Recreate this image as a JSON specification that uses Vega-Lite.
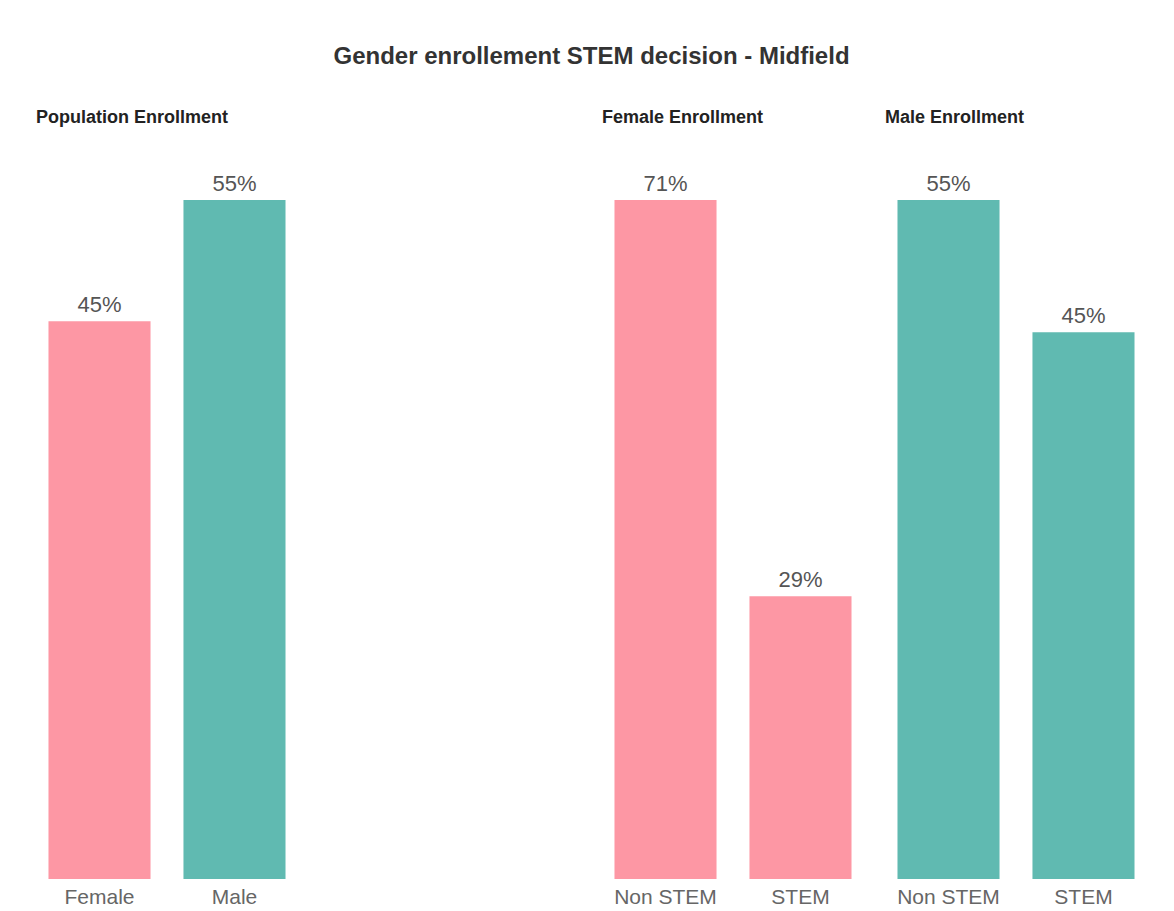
{
  "$schema": "https://vega.github.io/schema/vega-lite/v6.json",
  "background": "white",
  "padding": {"left": 36, "top": 45, "right": 10, "bottom": 3},
  "title": {"text": "Gender enrollement STEM decision - Midfield", "fontSize": 24, "fontWeight": "bold", "color": "#333333", "font": "Liberation Sans", "anchor": "middle", "offset": 40},
  "datasets": {
    "enroll": [
      {"panel": "Population Enrollment", "category": "Female", "gender": "Female", "share": 0.451},
      {"panel": "Population Enrollment", "category": "Male", "gender": "Male", "share": 0.549},
      {"panel": "Female Enrollment", "category": "Non STEM", "gender": "Female", "share": 0.706},
      {"panel": "Female Enrollment", "category": "STEM", "gender": "Female", "share": 0.294},
      {"panel": "Male Enrollment", "category": "Non STEM", "gender": "Male", "share": 0.554},
      {"panel": "Male Enrollment", "category": "STEM", "gender": "Male", "share": 0.446}
    ]
  },
  "spacing": 304,
  "hconcat": [
    {
      "title": "Population Enrollment",
      "width": 262, "height": 679,
      "data": {"name": "enroll"},
      "transform": [{"filter": "datum.panel === 'Population Enrollment'"}],
      "encoding": {
        "x": {"field": "category", "type": "nominal", "sort": null, "title": null, "scale": {"paddingInner": 0.244, "paddingOuter": 0.0925}},
        "y": {"field": "share", "type": "quantitative", "axis": null, "scale": {"nice": false, "zero": true}}
      },
      "layer": [
        {"mark": {"type": "bar"}, "encoding": {"color": {"field": "gender", "type": "nominal", "legend": null, "scale": {"domain": ["Female", "Male"], "range": ["#fd97a4", "#60bab1"]}}}},
        {"mark": {"type": "text", "baseline": "bottom", "dy": -4, "fontSize": 22, "color": "#555555", "font": "Liberation Sans"}, "encoding": {"text": {"field": "share", "type": "quantitative", "format": ".0%"}}}
      ]
    },
    {
      "spacing": 21,
      "hconcat": [
        {
          "title": "Female Enrollment",
          "width": 262, "height": 679,
          "data": {"name": "enroll"},
          "transform": [{"filter": "datum.panel === 'Female Enrollment'"}],
          "encoding": {
            "x": {"field": "category", "type": "nominal", "sort": null, "title": null, "scale": {"paddingInner": 0.244, "paddingOuter": 0.0925}},
            "y": {"field": "share", "type": "quantitative", "axis": null, "scale": {"nice": false, "zero": true}}
          },
          "layer": [
            {"mark": {"type": "bar"}, "encoding": {"color": {"field": "gender", "type": "nominal", "legend": null, "scale": {"domain": ["Female", "Male"], "range": ["#fd97a4", "#60bab1"]}}}},
            {"mark": {"type": "text", "baseline": "bottom", "dy": -4, "fontSize": 22, "color": "#555555", "font": "Liberation Sans"}, "encoding": {"text": {"field": "share", "type": "quantitative", "format": ".0%"}}}
          ]
        },
        {
          "title": "Male Enrollment",
          "width": 262, "height": 679,
          "data": {"name": "enroll"},
          "transform": [{"filter": "datum.panel === 'Male Enrollment'"}],
          "encoding": {
            "x": {"field": "category", "type": "nominal", "sort": null, "title": null, "scale": {"paddingInner": 0.244, "paddingOuter": 0.0925}},
            "y": {"field": "share", "type": "quantitative", "axis": null, "scale": {"nice": false, "zero": true}}
          },
          "layer": [
            {"mark": {"type": "bar"}, "encoding": {"color": {"field": "gender", "type": "nominal", "legend": null, "scale": {"domain": ["Female", "Male"], "range": ["#fd97a4", "#60bab1"]}}}},
            {"mark": {"type": "text", "baseline": "bottom", "dy": -4, "fontSize": 22, "color": "#555555", "font": "Liberation Sans"}, "encoding": {"text": {"field": "share", "type": "quantitative", "format": ".0%"}}}
          ]
        }
      ]
    }
  ],
  "resolve": {"scale": {"y": "independent"}},
  "config": {
    "view": {"stroke": null},
    "font": "Liberation Sans",
    "title": {"fontSize": 18, "fontWeight": "bold", "color": "#222222", "anchor": "start", "offset": 46, "font": "Liberation Sans"},
    "axisX": {"domain": false, "ticks": false, "labelAngle": 0, "labelFontSize": 21, "labelColor": "#666666", "labelPadding": 7, "labelFont": "Liberation Sans"}
  }
}
